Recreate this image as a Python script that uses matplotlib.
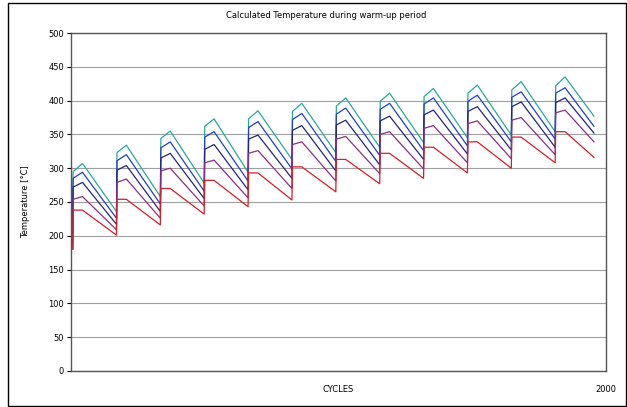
import matplotlib
matplotlib.use("Agg")
import matplotlib.pyplot as plt
from matplotlib.patches import Rectangle

# Datos (12 ciclos de calentamiento)
cycle_start = [8, 172, 336, 500, 664, 828, 992, 1156, 1320, 1484, 1648, 1812]
data_end = 1955
start_temp = [180, 180, 180, 180, 180]

series_names = ["T1", "T2", "T3", "T4", "T5"]
series_colors = ["#2aa89a", "#2040c0", "#26247a", "#8a2f86", "#d2202a"]

# valor justo despues del salto
jump_t1 = [295, 323, 344, 362, 373, 384, 392, 399, 406, 411, 416, 422]
jump_t2 = [285, 311, 330, 346, 360, 372, 380, 387, 395, 399, 405, 411]
jump_t3 = [272, 297, 315, 328, 343, 356, 364, 370, 379, 384, 391, 397]
jump_t4 = [254, 279, 296, 308, 322, 335, 343, 350, 359, 366, 371, 382]
jump_t5 = [238, 254, 270, 282, 293, 302, 313, 322, 331, 339, 346, 354]

# maximo de cada ciclo
peak_t1 = [307, 334, 355, 373, 385, 396, 404, 411, 418, 423, 428, 435]
peak_t2 = [294, 320, 339, 354, 369, 381, 389, 396, 404, 408, 413, 419]
peak_t3 = [279, 304, 322, 335, 349, 363, 371, 377, 386, 391, 398, 404]
peak_t4 = [258, 284, 300, 312, 326, 339, 347, 354, 363, 370, 375, 386]
peak_t5 = [238, 254, 270, 282, 293, 302, 313, 322, 331, 339, 346, 354]

# valor al final de cada ciclo
end_t1 = [236, 258, 278, 294, 313, 323, 331, 338, 345, 349, 354, 377]
end_t2 = [226, 247, 266, 281, 299, 310, 319, 326, 333, 339, 343, 362]
end_t3 = [217, 236, 255, 268, 285, 296, 305, 313, 321, 327, 331, 352]
end_t4 = [209, 226, 244, 256, 270, 281, 292, 299, 308, 314, 320, 339]
end_t5 = [201, 216, 232, 243, 253, 265, 277, 285, 293, 300, 308, 316]

jumps = [jump_t1, jump_t2, jump_t3, jump_t4, jump_t5]
peaks = [peak_t1, peak_t2, peak_t3, peak_t4, peak_t5]
ends = [end_t1, end_t2, end_t3, end_t4, end_t5]

fig = plt.figure(figsize=(6.27, 4.07), dpi=100)
ax = fig.add_axes([0.1132, 0.0885, 0.8533, 0.8304])

peak_offset = 35
for i in range(len(series_names)):
    xs = [0, cycle_start[0] - 2]
    ys = [start_temp[i], start_temp[i]]
    for k, s in enumerate(cycle_start):
        nxt = cycle_start[k + 1] - 2 if k + 1 < len(cycle_start) else data_end
        xs += [s, s + peak_offset, nxt]
        ys += [jumps[i][k], peaks[i][k], ends[i][k]]
    ax.plot(xs, ys, color=series_colors[i], lw=0.9, label=series_names[i])

ax.set_xlim(0, 2000)
ax.set_ylim(0, 500)
ax.set_yticks(range(0, 501, 50))
ax.set_xticks([])
ax.tick_params(axis="y", labelsize=6, length=3, width=0.8, direction="out", pad=2)
ax.yaxis.grid(True, color="#a0a0a0", lw=0.8)
ax.set_axisbelow(True)
for sp in ax.spines.values():
    sp.set_color("#555555")
    sp.set_linewidth(1)

ax.text(0.5, -0.055, "CYCLES", transform=ax.transAxes, ha="center", va="center", fontsize=6)
ax.text(1.0, -0.055, "2000", transform=ax.transAxes, ha="center", va="center", fontsize=6)
fig.text(0.04, 0.505, "Temperature [°C]", rotation=90, ha="center", va="center", fontsize=6)
fig.text(0.52, 0.963, "Calculated Temperature during warm-up period", ha="center", va="center", fontsize=6)

fig.patches.append(Rectangle((8 / 627, 1 / 407), 1 - 9 / 627, 1 - 4 / 407, transform=fig.transFigure,
                             fill=False, edgecolor="black", lw=1))

fig.savefig("out.png", dpi=100)
